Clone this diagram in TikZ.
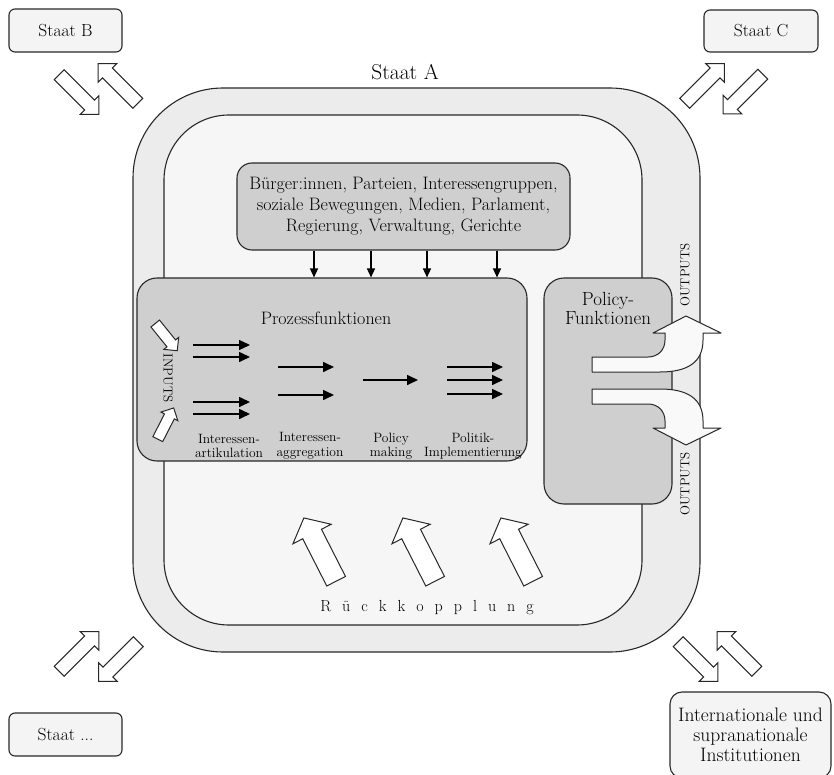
\documentclass[tikz,border=0pt]{standalone}
\usepackage{tikz}
\usetikzlibrary{arrows.meta,positioning,shapes.arrows}

\definecolor{linegray}{RGB}{40,40,40}
\definecolor{ringgray}{RGB}{236,236,236}
\definecolor{innergray}{RGB}{246,246,246}
\definecolor{boxgray}{RGB}{207,207,207}
\definecolor{staatfill}{RGB}{244,244,244}
\definecolor{outfill}{RGB}{249,249,249}

\begin{document}
\begin{tikzpicture}[x=1pt,y=-1pt,
	staat/.style={rectangle,rounded corners=6pt,draw=linegray,fill=staatfill,line width=1.1pt,inner sep=0pt,font=\fontsize{17.5}{20}\selectfont},
	ring/.style={rectangle,draw=linegray,line width=1.1pt,inner sep=0pt},
	funcbox/.style={rectangle,rounded corners=20pt,draw=linegray,fill=boxgray,line width=1.1pt,inner sep=0pt},
	title/.style={font=\fontsize{18}{20}\selectfont,align=center,inner sep=0pt},
	stage/.style={font=\fontsize{13.5}{14.5}\selectfont,align=center,inner sep=0pt},
	side/.style={font=\fontsize{13}{14}\selectfont,inner sep=0pt},
	hollow/.style={single arrow,draw=linegray,fill=white,line width=1pt,inner sep=0pt,single arrow tip angle=90},
	swap/.style={hollow,minimum height=56pt,inner ysep=6.5pt,single arrow head extend=6pt},
	feedback/.style={hollow,minimum height=71pt,inner ysep=10pt,single arrow head extend=11pt,single arrow tip angle=100},
	input/.style={hollow,minimum height=35pt,inner ysep=5pt,single arrow head extend=4pt},
	feed/.style={-{Triangle[length=9pt,width=8pt]},line width=1.2pt},
	flow/.style={-{Triangle[length=11pt,width=10pt]},line width=1.6pt},
	output/.style={draw=linegray,fill=outfill,line width=1pt,line join=round}
	]
\path [use as bounding box,clip] (0,0) rectangle (834,775);

\node [ring,fill=ringgray,rounded corners=90pt,minimum width=567pt,minimum height=564pt] (staatA) at (416.5,370) {};
\node [ring,fill=innergray,rounded corners=65pt,minimum width=478pt,minimum height=510pt] (inner) at (403,370) {};
\node [font=\fontsize{21.5}{24}\selectfont] (staatAlabel) at (405,72) {Staat A};

\node [funcbox,rounded corners=15pt,minimum width=333pt,minimum height=87pt,font=\fontsize{18}{21}\selectfont,align=center] (actors) at (403.5,206.5) {B\"urger:innen, Parteien, Interessengruppen,\\soziale Bewegungen, Medien, Parlament,\\Regierung, Verwaltung, Gerichte};
\node [funcbox,minimum width=390pt,minimum height=183pt] (process) at (332,369.5) {};
\node [funcbox,minimum width=128pt,minimum height=226pt] (policy) at (608,391) {};

\foreach \x in {314,371,427,497}
	\draw [feed] (\x,0 |- actors.south) -- (\x,0 |- process.north);

\node [title] (processlabel) at (326,318) {Prozessfunktionen};
\node [title,font=\fontsize{19}{19}\selectfont] (policylabel) at (608,308) {Policy-\\Funktionen};

\foreach \y in {345,357,402,414}
	\draw [flow] (193,\y) -- (250,\y);
\foreach \y in {367,395}
	\draw [flow] (278,\y) -- (334,\y);
\draw [flow] (363,380) -- (418,380);
\foreach \y in {367,380,394}
	\draw [flow] (447,\y) -- (503,\y);

\node [stage] (artic) at (229,446) {Interessen-\\artikulation};
\node [stage] (aggreg) at (310,446) {Interessen-\\aggregation};
\node [stage] (making) at (391,446) {Policy\\making};
\node [stage] (implem) at (473,446) {Politik-\\Implementierung};

\node [input,rotate=-51] (in1) at (164.5,335) {};
\node [input,rotate=63] (in2) at (164.5,426) {};
\node [side,rotate=-90] (inputs) at (168,378) {INPUTS};

\draw [output] (592,357) -- (648,357) .. controls (658,357) and (665,350) .. (665,340) -- (665,333) -- (653,333) -- (686,316) -- (721,333) -- (703,333) -- (703,340) .. controls (703,362) and (688,372) .. (660,372) -- (592,372) -- cycle;
\draw [output] (592,404) -- (648,404) .. controls (658,404) and (665,411) .. (665,421) -- (665,428) -- (653,428) -- (686,445) -- (721,428) -- (703,428) -- (703,421) .. controls (703,399) and (688,389) .. (660,389) -- (592,389) -- cycle;
\node [side,rotate=90] (out1) at (685,275) {OUTPUTS};
\node [side,rotate=90] (out2) at (685,484) {OUTPUTS};

\node [feedback,rotate=117] (fb1) at (322,553.5) {};
\node [feedback,rotate=117] (fb2) at (421,553.5) {};
\node [feedback,rotate=117] (fb3) at (519,553.5) {};
\node [font=\fontsize{16}{18}\selectfont] (feedbacklabel) at (427,608) {R\hspace{11pt}\"u\hspace{11pt}c\hspace{11pt}k\hspace{11pt}k\hspace{11pt}o\hspace{11pt}p\hspace{11pt}p\hspace{11pt}l\hspace{11pt}u\hspace{11pt}n\hspace{11pt}g};

\node [staat,minimum width=113pt,minimum height=43pt] (staatB) at (65.5,30.5) {Staat B};
\node [swap,rotate=-45] (bIn) at (76.5,92) {};
\node [swap,rotate=135] (bOut) at (120.5,86) {};

\node [staat,minimum width=114pt,minimum height=42pt] (staatC) at (761,31) {Staat C};
\node [swap,rotate=45] (cOut) at (702,86) {};
\node [swap,rotate=-135] (cIn) at (745.5,91.5) {};

\node [staat,minimum width=113pt,minimum height=43pt] (staatX) at (65.5,734.5) {Staat ...};
\node [swap,rotate=45] (xOut) at (76.5,654) {};
\node [swap,rotate=-135] (xIn) at (121,659) {};

\node [staat,rounded corners=12pt,minimum width=161pt,minimum height=86pt,align=center,font=\fontsize{19.5}{20}\selectfont] (inst) at (750.5,735) {Internationale und\\supranationale\\Institutionen};
\node [swap,rotate=-45] (iIn) at (695.5,659) {};
\node [swap,rotate=135] (iOut) at (739.5,654) {};
\end{tikzpicture}
\end{document}
